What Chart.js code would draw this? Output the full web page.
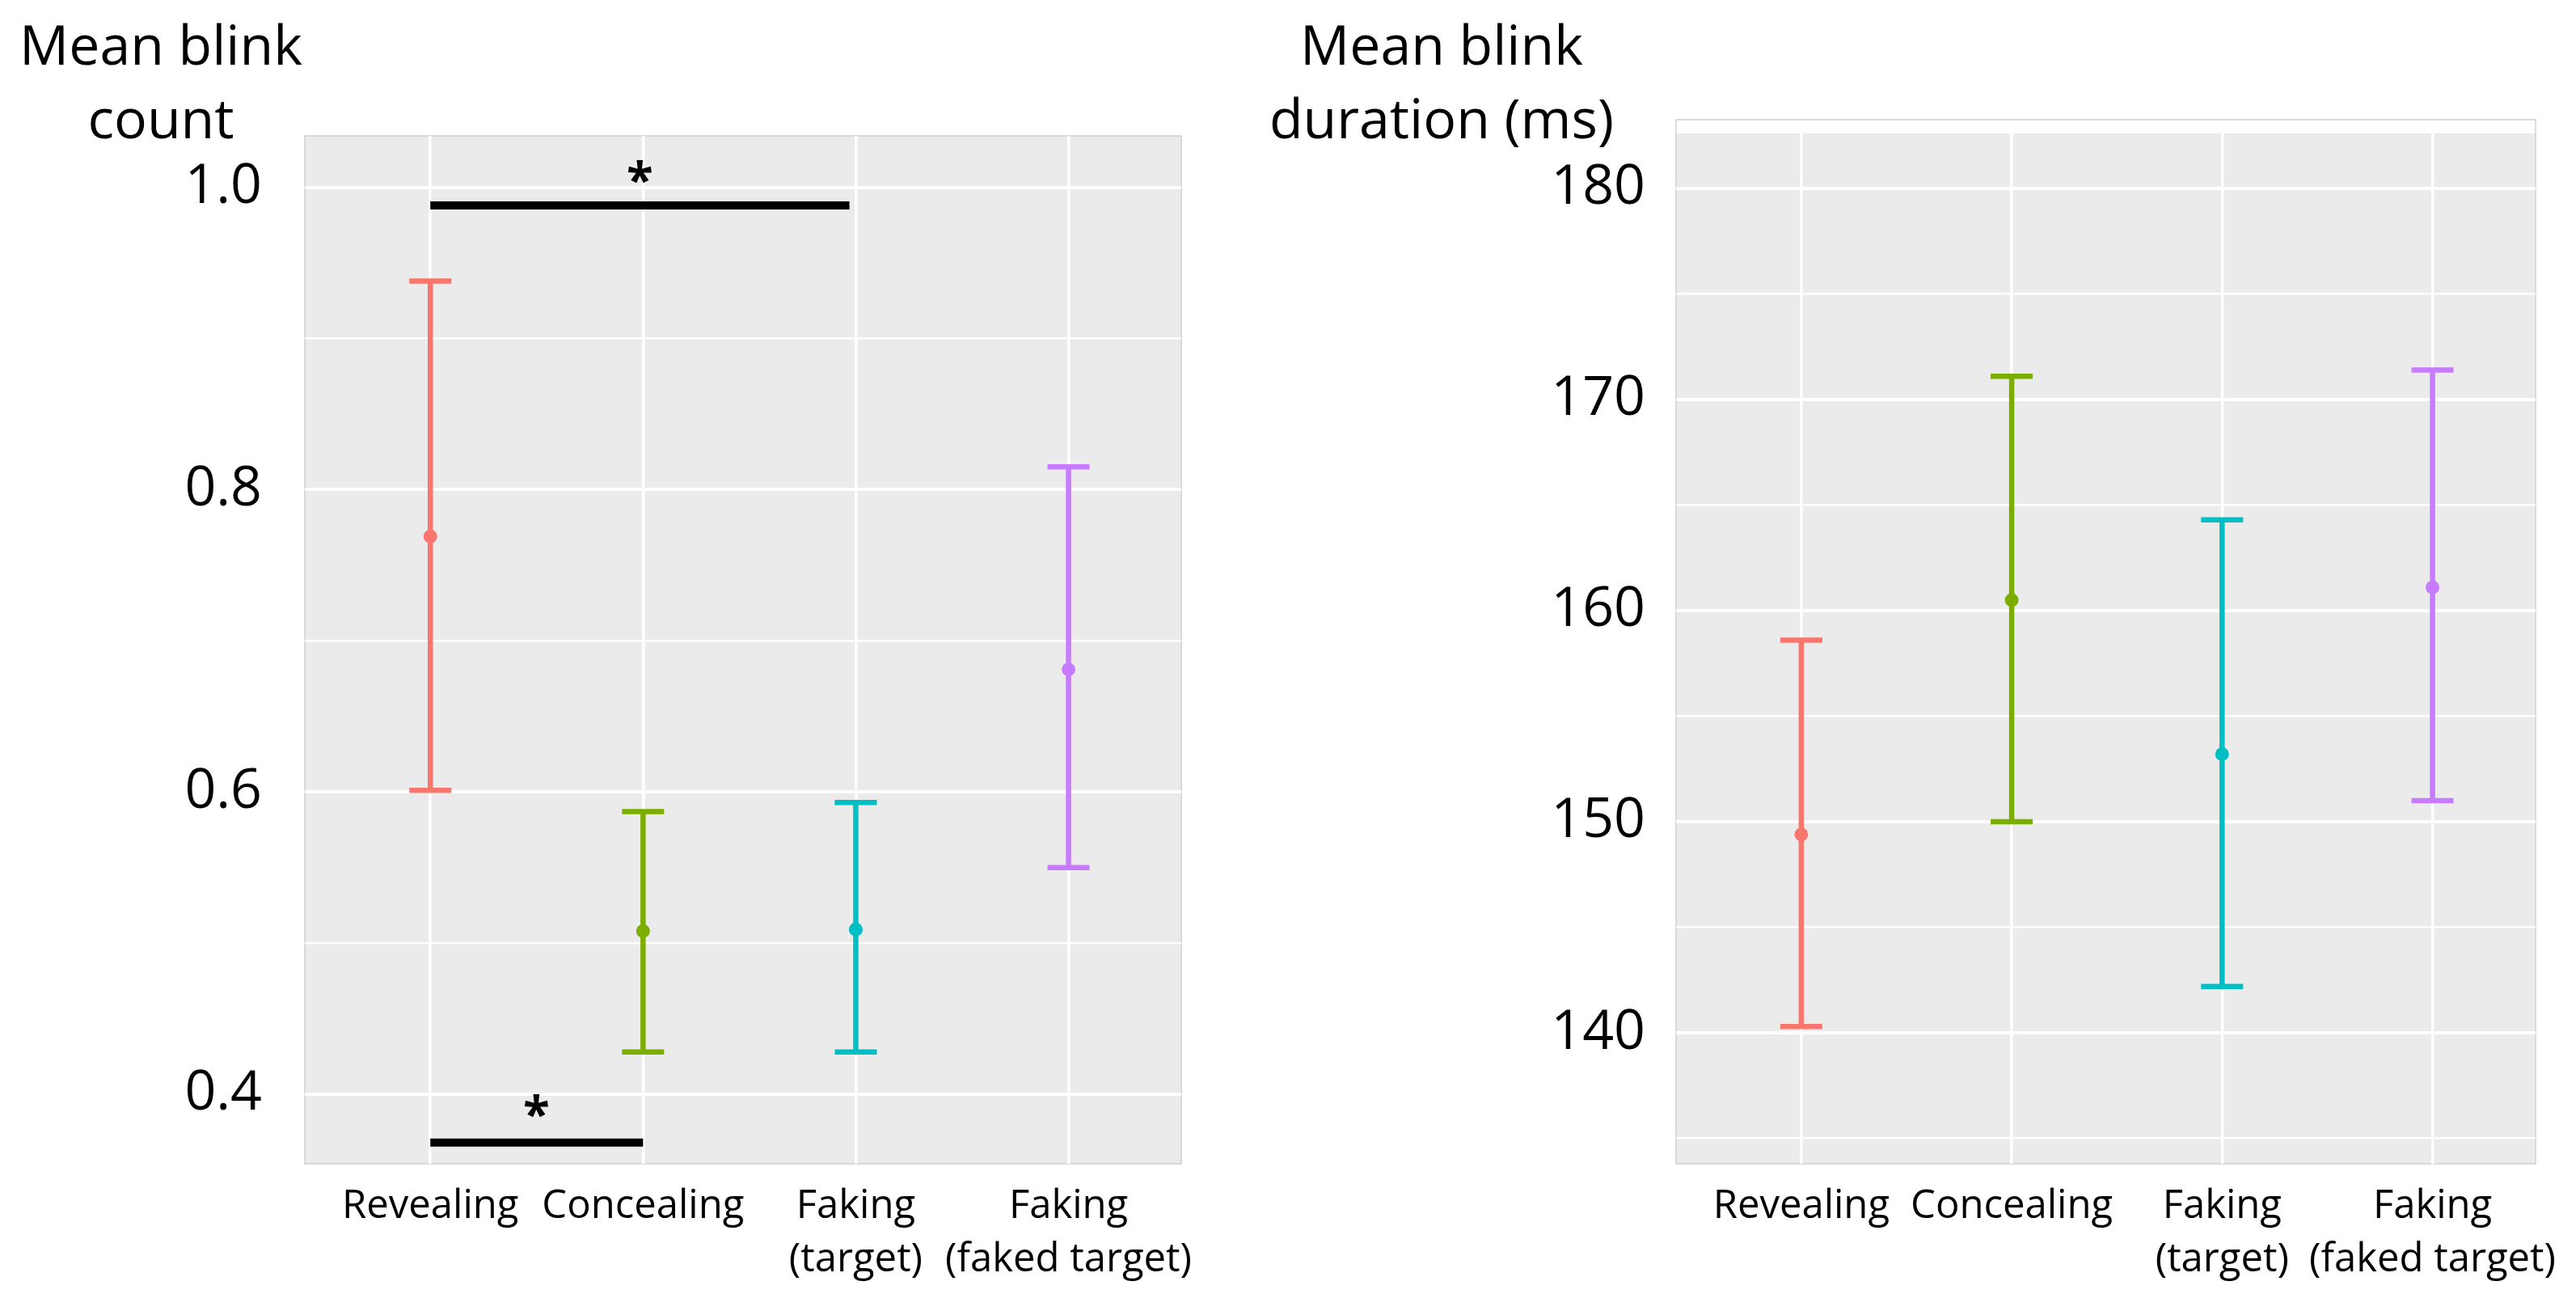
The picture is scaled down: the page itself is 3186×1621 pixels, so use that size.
<!DOCTYPE html>
<html>
<head>
<meta charset="utf-8">
<script src="https://cdn.jsdelivr.net/npm/chart.js@4.4.0/dist/chart.umd.min.js"></script>
<style>
  html, body { margin: 0; padding: 0; background: #fff; }
  body { width: 3186px; height: 1621px; position: relative; overflow: hidden; }
  canvas { position: absolute; top: 0; }
  #countChart { left: 0; }
  #durationChart { left: 1560px; }
</style>
</head>
<body>
<canvas id="countChart" width="1560" height="1621"></canvas>
<canvas id="durationChart" width="1626" height="1621"></canvas>
<script>
const conditions = [['Revealing'], ['Concealing'], ['Faking', '(target)'], ['Faking', '(faked target)']];
const conditionColors = ['#F8766D', '#7CAE00', '#00BFC4', '#C77CFF'];

// left panel: mean blink count
const countMean = [0.769, 0.508, 0.509, 0.681];
const countLower = [0.601, 0.428, 0.428, 0.550];
const countUpper = [0.938, 0.587, 0.593, 0.815];
const countTickLabels = ['0.4', '0.6', '0.8', '1.0'];
const countMinorTicks = [0.5, 0.7, 0.9];

// right panel: mean blink duration (ms)
const durationMean = [149.4, 160.5, 153.2, 161.1];
const durationLower = [140.3, 150.0, 142.2, 151.0];
const durationUpper = [158.6, 171.1, 164.3, 171.4];
const durationTickLabels = ['140', '150', '160', '170', '180'];
const durationMinorTicks = [135, 145, 155, 165, 175];

// significance brackets, left panel only
const sigFrom = [1, 1];
const sigTo = [2.97, 2];
const sigY = [0.988, 0.368];
const starX = [1.985, 1.498];
const starY = [1.011, 0.393];

Chart.defaults.font.family = '"Open Sans", sans-serif';
Chart.defaults.color = '#000';

const panelDecor = {
    id: 'panelDecor',
    beforeDraw(chart, args, opts) {
        const { ctx, chartArea: a } = chart;
        ctx.save();
        ctx.fillStyle = '#EBEBEB';
        ctx.fillRect(a.left, a.top, a.right - a.left, a.bottom - a.top);
        ctx.strokeStyle = '#D0D0D0';
        ctx.lineWidth = 1.5;
        ctx.strokeRect(a.left, a.top - opts.frameGap, a.right - a.left, a.bottom - a.top + opts.frameGap);
        ctx.restore();
    },
    afterDraw(chart, args, opts) {
        const { ctx, scales } = chart;
        ctx.save();
        ctx.fillStyle = '#000';
        ctx.textAlign = 'center';
        ctx.textBaseline = 'alphabetic';
        ctx.font = '68px "Open Sans"';
        opts.title.forEach((line, i) => ctx.fillText(line, opts.titleX, 80 + i * 91));
        ctx.font = 'bold 60px "Open Sans"';
        opts.starX.forEach((sx, i) => {
            ctx.fillText('*', scales.x.getPixelForValue(sx), scales.y.getPixelForValue(opts.starY[i]) + 33);
        });
        ctx.restore();
    }
};

function createPanel(canvasId, p) {
    const majorTicks = p.tickLabels.map(Number);
    const allTicks = majorTicks.concat(p.minorTicks).sort((a, b) => a - b);

    const datasets = [{
        data: p.mean.map((m, i) => ({ x: i + 1, y: m })),
        showLine: false,
        pointRadius: 8.5,
        pointBackgroundColor: conditionColors,
        pointBorderColor: conditionColors,
        pointBorderWidth: 0,
        order: 0
    }];
    p.mean.forEach((m, i) => {
        datasets.push({
            data: [{ x: i + 1, y: p.lower[i] }, { x: i + 1, y: p.upper[i] }],
            showLine: true,
            borderColor: conditionColors[i],
            borderWidth: 6.5,
            pointStyle: 'line',
            pointRadius: 26,
            pointBorderWidth: 6.5,
            pointBorderColor: conditionColors[i],
            order: 1
        });
    });
    p.sigFrom.forEach((f, i) => {
        datasets.push({
            data: [{ x: f, y: p.sigY[i] }, { x: p.sigTo[i], y: p.sigY[i] }],
            showLine: true,
            borderColor: '#000',
            borderWidth: 10,
            borderCapStyle: 'butt',
            pointRadius: 0,
            order: 1
        });
    });

    return new Chart(document.getElementById(canvasId), {
        type: 'scatter',
        data: { datasets: datasets },
        plugins: [panelDecor],
        options: {
            responsive: false,
            animation: false,
            devicePixelRatio: 1,
            layout: { padding: { left: 0, top: p.top, right: p.right, bottom: 0 } },
            plugins: {
                legend: { display: false },
                tooltip: { enabled: false },
                panelDecor: { title: p.title, titleX: p.titleX, frameGap: p.frameGap, starX: p.starX, starY: p.starY }
            },
            scales: {
                x: {
                    type: 'linear',
                    min: p.xMin,
                    max: p.xMax,
                    afterBuildTicks: s => { s.ticks = conditions.map((c, i) => ({ value: i + 1 })); },
                    afterFit: s => { s.height = 182; },
                    ticks: {
                        callback: (v, i) => conditions[i],
                        autoSkip: false,
                        maxRotation: 0,
                        minRotation: 0,
                        padding: 20,
                        font: { size: 49, lineHeight: 1.35 }
                    },
                    grid: { color: '#FFFFFF', lineWidth: 3.5, drawTicks: false },
                    border: { display: false }
                },
                y: {
                    type: 'linear',
                    min: p.yMin,
                    max: p.yMax,
                    afterBuildTicks: s => { s.ticks = allTicks.map(v => ({ value: v })); },
                    afterFit: s => { s.width = p.yWidth; },
                    ticks: {
                        callback: v => {
                            const k = majorTicks.indexOf(v);
                            return k >= 0 ? p.tickLabels[k] : '';
                        },
                        padding: p.tickPad,
                        font: { size: 68 }
                    },
                    grid: {
                        color: '#FFFFFF',
                        lineWidth: c => (majorTicks.includes(c.tick.value) ? 4 : 2.5),
                        drawTicks: false
                    },
                    border: { display: false }
                }
            }
        }
    });
}

createPanel('countChart', {
    mean: countMean, lower: countLower, upper: countUpper,
    tickLabels: countTickLabels, minorTicks: countMinorTicks,
    sigFrom: sigFrom, sigTo: sigTo, sigY: sigY, starX: starX, starY: starY,
    title: ['Mean blink', 'count'], titleX: 199,
    xMin: 0.41, xMax: 4.53, yMin: 0.354, yMax: 1.034,
    yWidth: 377, top: 168, right: 99, tickPad: 53, frameGap: 0
});

createPanel('durationChart', {
    mean: durationMean, lower: durationLower, upper: durationUpper,
    tickLabels: durationTickLabels, minorTicks: durationMinorTicks,
    sigFrom: [], sigTo: [], sigY: [], starX: [], starY: [],
    title: ['Mean blink', 'duration (ms)'], titleX: 223,
    xMin: 0.405, xMax: 4.49, yMin: 133.8, yMax: 182.6,
    yWidth: 513, top: 165, right: 42, tickPad: 38, frameGap: 17
});
</script>
</body>
</html>
